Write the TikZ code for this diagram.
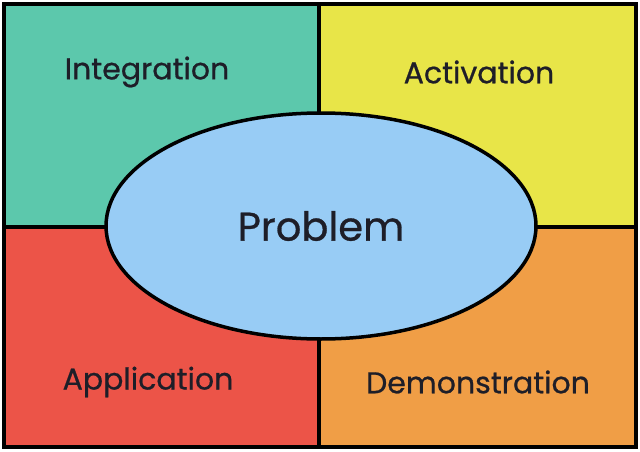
\documentclass[tikz,border=0pt]{standalone}
\usepackage{fontspec}
\setmainfont{Poppins}[FakeBold=0.7]
\usetikzlibrary{shapes.geometric}
\definecolor{cteal}{RGB}{92,200,172}
\definecolor{cyel}{RGB}{232,229,72}
\definecolor{cred}{RGB}{236,84,72}
\definecolor{corg}{RGB}{240,158,70}
\definecolor{cblue}{RGB}{152,204,245}
\definecolor{ctext}{RGB}{30,30,40}
\tikzset{quad/.style={draw=black,line width=4pt},
 lab/.style={text=ctext,font=\fontsize{30}{36}\selectfont}}
\begin{document}
\begin{tikzpicture}[x=1pt,y=1pt]
\fill[white] (0,0) rectangle (640,451);
\useasboundingbox (0,0) rectangle (640,451);
\filldraw[quad,fill=cteal] (4,224) rectangle (319,447);
\filldraw[quad,fill=cyel] (319,224) rectangle (636,447);
\filldraw[quad,fill=cred] (4,4) rectangle (319,224);
\filldraw[quad,fill=corg] (319,4) rectangle (636,224);
\node[draw=black,line width=3.5pt,fill=cblue,ellipse,minimum width=430,minimum height=226,inner sep=0] (p) at (321,225) {};
\node[text=ctext,font=\fontsize{40}{46}\selectfont] (pt) at (p) {Problem};
\node[lab] (i) at (147,379) {Integration};
\node[lab] (a) at (479,379) {Activation};
\node[lab] (ap) at (148,69) {Application};
\node[lab] (d) at (478,69) {Demonstration};
\end{tikzpicture}
\end{document}
